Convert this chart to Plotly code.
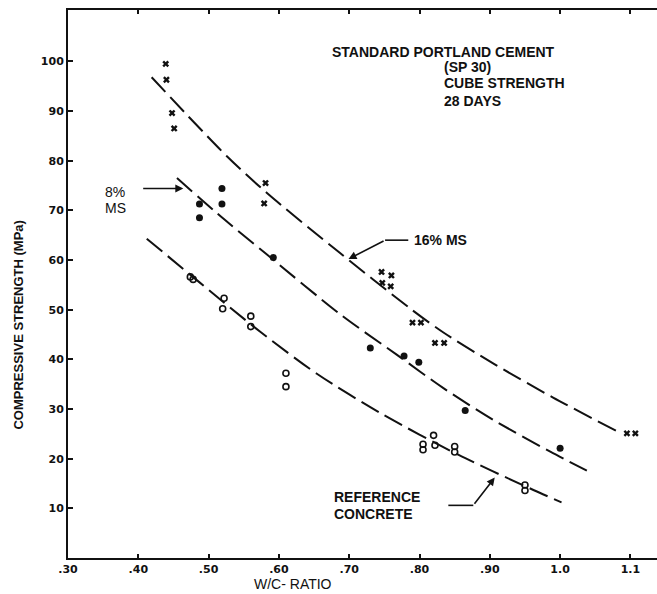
import plotly.graph_objects as go

# Measured cube strengths (MPa) versus water/cement ratio
ms16_wc = [0.439, 0.440, 0.448, 0.451, 0.581, 0.579, 0.746, 0.760, 0.747, 0.759,
           0.790, 0.802, 0.822, 0.835, 1.095, 1.107]
ms16_fc = [99.5, 96.3, 89.6, 86.5, 75.5, 71.4, 57.6, 56.9, 55.4, 54.7,
           47.4, 47.4, 43.3, 43.3, 25.1, 25.1]

ms8_wc = [0.487, 0.487, 0.519, 0.519, 0.592, 0.730, 0.778, 0.799, 0.865, 1.000]
ms8_fc = [71.3, 68.5, 74.4, 71.3, 60.5, 42.3, 40.7, 39.4, 29.7, 22.1]

ref_wc = [0.474, 0.478, 0.522, 0.520, 0.560, 0.560, 0.610, 0.610,
          0.805, 0.805, 0.820, 0.822, 0.850, 0.850, 0.950, 0.950]
ref_fc = [56.6, 56.1, 52.3, 50.2, 48.7, 46.6, 37.2, 34.5,
          22.9, 21.8, 24.7, 22.7, 22.45, 21.35, 14.7, 13.6]

# Fitted strength curves
c16_wc = [0.419, 0.526, 0.583, 0.687, 0.789, 0.834, 0.907, 0.990, 1.080]
c16_fc = [96.8, 80.9, 73.5, 61.4, 50.0, 45.4, 39.0, 32.3, 25.6]

c8_wc = [0.455, 0.523, 0.583, 0.687, 0.768, 0.834, 0.905, 0.986, 1.038]
c8_fc = [76.5, 68.1, 61.1, 49.1, 40.9, 34.2, 27.8, 21.4, 17.6]

cref_wc = [0.412, 0.488, 0.573, 0.654, 0.744, 0.855, 0.962, 1.002]
cref_fc = [64.3, 55.4, 45.6, 37.1, 29.2, 20.8, 13.7, 11.2]

x_ticks = [0.3, 0.4, 0.5, 0.6, 0.7, 0.8, 0.9, 1.0, 1.1]
x_tick_text = [".30", ".40", ".50", ".60", ".70", ".80", ".90", "1.0", "1.1"]
y_ticks = [10, 20, 30, 40, 50, 60, 70, 80, 90, 100]

INK = "#111111"
DASH = "20px,7px"

fig = go.Figure()

for cx, cy in [(c16_wc, c16_fc), (c8_wc, c8_fc), (cref_wc, cref_fc)]:
    fig.add_trace(go.Scatter(
        x=cx, y=cy, mode="lines",
        line=dict(color=INK, width=2, dash=DASH, shape="spline", smoothing=0.8),
        hoverinfo="skip", showlegend=False))

fig.add_trace(go.Scatter(
    x=ms16_wc, y=ms16_fc, mode="markers",
    marker=dict(symbol="x", size=6, color=INK, line=dict(width=0)),
    showlegend=False))
fig.add_trace(go.Scatter(
    x=ms8_wc, y=ms8_fc, mode="markers",
    marker=dict(symbol="circle", size=7, color=INK),
    showlegend=False))
fig.add_trace(go.Scatter(
    x=ref_wc, y=ref_fc, mode="markers",
    marker=dict(symbol="circle-open", size=6, color=INK, line=dict(width=1.6)),
    showlegend=False))

label_font = dict(family="Liberation Sans, Arial, sans-serif", size=14, color=INK)
bold_font = dict(family="Liberation Sans, Arial, sans-serif", size=14, color=INK,
                 weight="bold")

annotations = [
    dict(x=0.6727, y=101.8, text="STANDARD PORTLAND CEMENT"),
    dict(x=0.832, y=98.8, text="(SP 30)"),
    dict(x=0.832, y=95.6, text="CUBE STRENGTH"),
    dict(x=0.832, y=92.1, text="28 DAYS"),
    dict(x=0.789, y=64.1, text="16% MS"),
    dict(x=0.676, y=12.35, text="REFERENCE"),
    dict(x=0.676, y=8.8, text="CONCRETE"),
]
for a in annotations:
    fig.add_annotation(x=a["x"], y=a["y"], text=a["text"], xref="x", yref="y",
                       xanchor="left", yanchor="middle", showarrow=False,
                       font=bold_font)

fig.add_annotation(x=0.3498, y=73.8, text="8%", xanchor="left", yanchor="middle",
                   showarrow=False, font=label_font)
fig.add_annotation(x=0.3498, y=70.5, text="MS", xanchor="left", yanchor="middle",
                   showarrow=False, font=label_font)

# Leader arrows pointing at the curves
arrow_style = dict(showarrow=True, arrowhead=2, arrowsize=1, arrowwidth=1.6,
                   arrowcolor=INK, text="", axref="x", ayref="y")
fig.add_annotation(x=0.464, y=74.4, ax=0.4048, ay=74.4, **arrow_style)
fig.add_annotation(x=0.699, y=60.2, ax=0.751, ay=64.0, **arrow_style)
fig.add_annotation(x=0.907, y=16.2, ax=0.8765, ay=10.6, **arrow_style)

fig.add_shape(type="line", x0=0.751, x1=0.784, y0=64.0, y1=64.0,
              line=dict(color=INK, width=1.6))
fig.add_shape(type="line", x0=0.841, x1=0.8765, y0=10.6, y1=10.6,
              line=dict(color=INK, width=1.6))

# Axis titles
fig.add_annotation(x=0.382, y=-0.0474, xref="paper", yref="paper",
                   text="W/C- RATIO", showarrow=False, xanchor="center",
                   yanchor="middle", font=label_font)
fig.add_annotation(x=-0.0832, y=0.426, xref="paper", yref="paper",
                   text="COMPRESSIVE STRENGTH (MPa)", showarrow=False,
                   textangle=-90, xanchor="center", yanchor="middle",
                   font=dict(family="Liberation Sans, Arial, sans-serif", size=13,
                             color=INK, weight="bold"))

tick_font = dict(family="DejaVu Sans, sans-serif", size=11, color=INK, weight="bold")

fig.update_xaxes(
    range=[0.3, 1.1378], tickvals=x_ticks, ticktext=x_tick_text,
    showline=True, linewidth=2, linecolor=INK, mirror="ticks",
    ticks="inside", ticklen=4, tickwidth=1.5, tickcolor=INK,
    showgrid=False, zeroline=False, tickfont=tick_font)
fig.update_yaxes(
    range=[0, 110.35], tickvals=y_ticks,
    showline=True, linewidth=2, linecolor=INK,
    ticks="inside", ticklen=5, tickwidth=1.5, tickcolor=INK,
    showgrid=False, zeroline=False, tickfont=tick_font)

fig.update_layout(
    width=657, height=594,
    margin=dict(l=68, r=0, t=10, b=36),
    paper_bgcolor="white", plot_bgcolor="white",
    showlegend=False)

fig.write_html("out.html")
